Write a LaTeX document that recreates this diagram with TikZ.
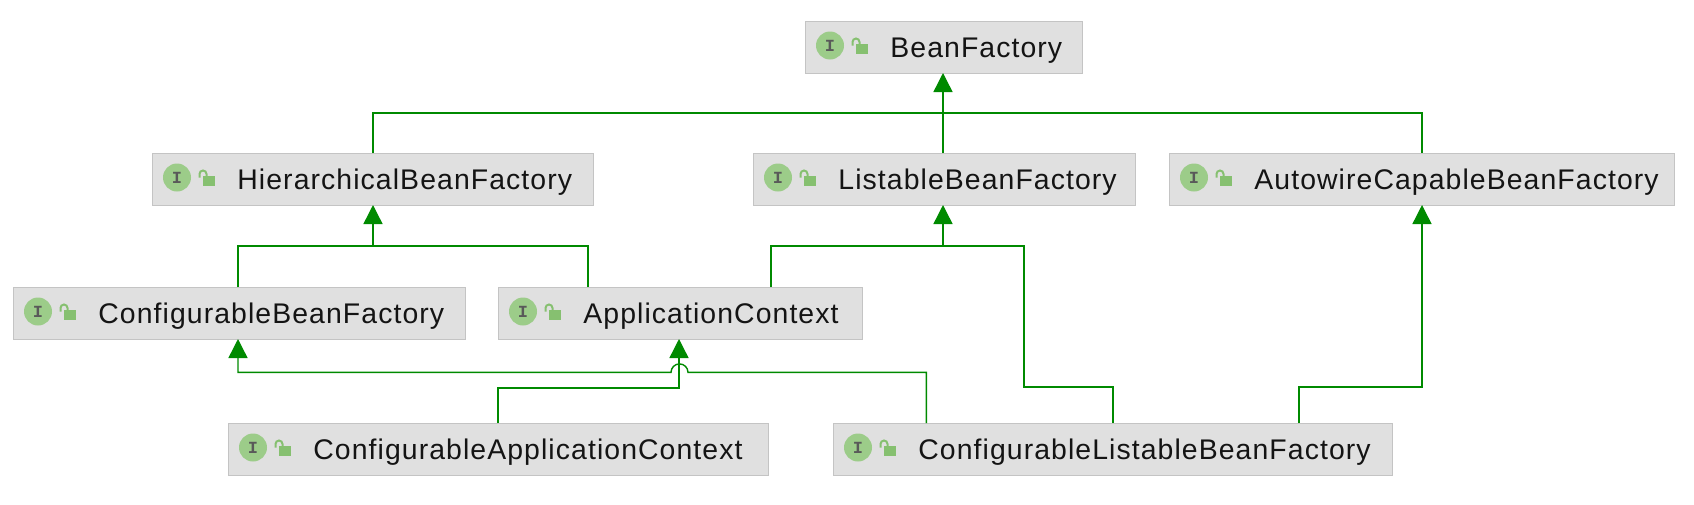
\documentclass[tikz,border=0pt]{standalone}
\usepackage{fontspec}
\setmainfont{Liberation Sans}[LetterSpace=3.8]
\setmonofont{Liberation Mono}
\usetikzlibrary{arrows.meta}
\definecolor{boxfill}{HTML}{E0E0E0}
\definecolor{boxline}{HTML}{C4C4C4}
\definecolor{edgegreen}{HTML}{008A00}
\definecolor{iconcirc}{HTML}{9CCC89}
\definecolor{lockgreen}{HTML}{86C070}
\tikzset{
  x=0.5pt,y=-0.5pt,
  ibox/.style={draw=boxline,fill=boxfill,line width=0.5pt,rectangle,inner sep=0pt,outer sep=0pt,anchor=north west},
  ilabel/.style={anchor=base west,inner sep=0pt,font=\fontsize{14.2pt}{16pt}\selectfont,text=black!92},
  iicon/.style={circle,fill=iconcirc,minimum size=14pt,inner sep=0pt,font=\ttfamily\bfseries\fontsize{8.5pt}{9pt}\selectfont,text=black!65},
  rel/.style={draw=edgegreen,line width=0.7pt,line join=miter},
  inh/.style={rel,-{Triangle[length=9.5pt,width=9.5pt,fill=edgegreen]}},
}
\newcommand{\ifacebox}[5]{%
  \node[ibox,minimum width=#4*0.5pt,minimum height=26pt] (#1) at (#2,#3) {};
  \node[iicon] (#1icon) at (#2+25,#3+24.5) {I};
  \fill[lockgreen] (#2+51,#3+23) rectangle (#2+63,#3+33);
  \draw[lockgreen,line width=1pt] (#2+47.5,#3+24.5) -- (#2+47.5,#3+21) arc[start angle=180,end angle=360,radius=3.5] -- (#2+54.5,#3+23.5);
  \node[ilabel] (#1text) at (#2+85,#3+36.7) {#5};
}
\begin{document}
\begin{tikzpicture}
\useasboundingbox (0,0) rectangle (1694,504);
\ifacebox{bf}{805}{21}{277}{BeanFactory}
\ifacebox{hbf}{152}{153}{441}{HierarchicalBeanFactory}
\ifacebox{lbf}{753}{153}{382}{ListableBeanFactory}
\ifacebox{acbf}{1169}{153}{505}{AutowireCapableBeanFactory}
\ifacebox{cbf}{13}{287}{452}{ConfigurableBeanFactory}
\ifacebox{ac}{498}{287}{364}{ApplicationContext}
\ifacebox{cac}{228}{423}{540}{ConfigurableApplicationContext}
\ifacebox{clbf}{833}{423}{559}{ConfigurableListableBeanFactory}
% ports
\coordinate (bfp) at (943,73);
\coordinate (hp) at (373,153);
\coordinate (lp) at (943,153);
\coordinate (ap) at (1422,153);
\coordinate (hb) at (373,205);
\coordinate (lb) at (943,205);
\coordinate (ab) at (1422,205);
\coordinate (cbt) at (238,287);
\coordinate (act) at (588,287);
\coordinate (act2) at (771,287);
\coordinate (cbb) at (238,339);
\coordinate (acb) at (679,339);
\coordinate (cact) at (498,423);
\coordinate (clt1) at (926.4,423);
\coordinate (clt2) at (1113,423);
\coordinate (clt3) at (1299,423);
% edges
\draw[rel] (hp) -- (373,113) -- (1422,113) -- (ap);
\draw[inh] (lp) -- (bfp);
\draw[rel] (cbt) -- (238,246) -- (588,246) -- (act);
\draw[inh] (373,246) -- (hb);
\draw[rel] (act2) -- (771,246) -- (1024,246) -- (1024,387) -- (1113,387) -- (clt2);
\draw[inh] (943,246) -- (lb);
\draw[inh] (clt3) -- (1299,387) -- (1422,387) -- (ab);
\draw[inh] (cact) -- (498,388) -- (679,388) -- (acb);
\draw[inh] (clt1) -- (926.4,372.4) -- (688,372.4) arc[start angle=0,end angle=-180,radius=8.5] -- (238,372.4) -- (cbb);
\end{tikzpicture}
\end{document}
